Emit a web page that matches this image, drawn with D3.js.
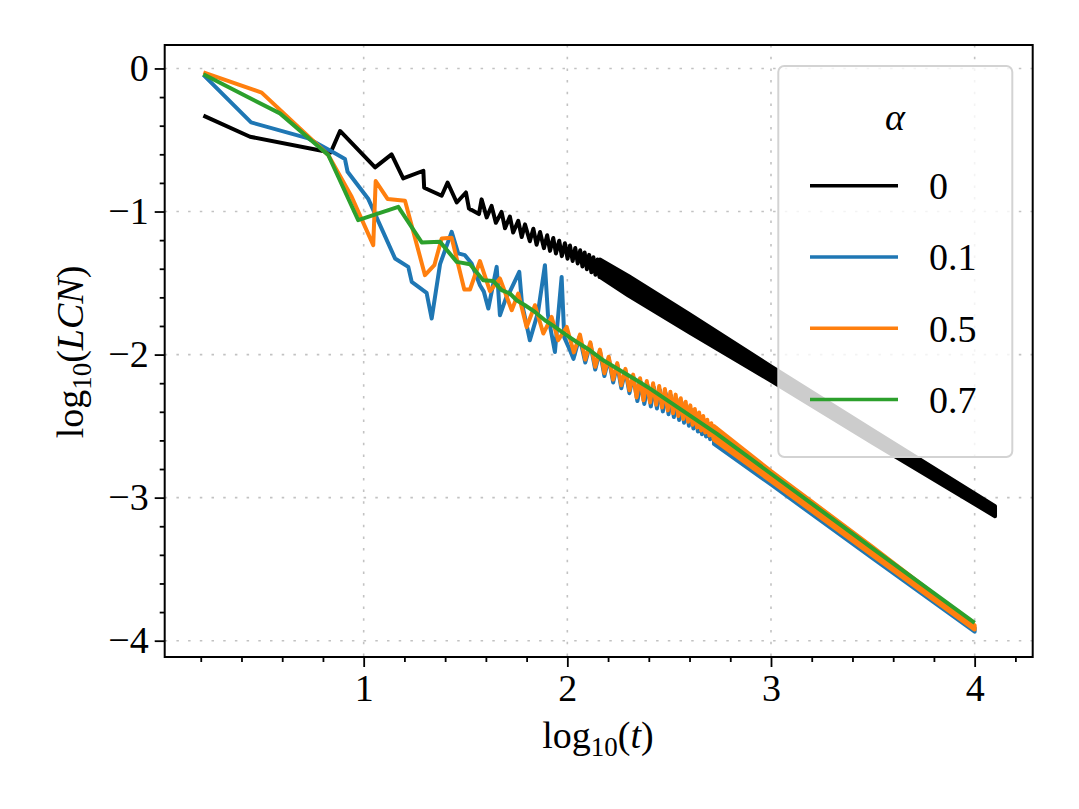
<!DOCTYPE html>
<html>
<head>
<meta charset="utf-8">
<script src="https://cdn.jsdelivr.net/npm/d3@7"></script>
<style>
  body { margin: 0; background: #fff; }
  svg text { font-family: "Liberation Serif", "Times New Roman", serif; fill: #000; }
</style>
</head>
<body>
<div id="chart"></div>
<script>
// log10(t) vs log10(LCN)
var xMajorTicks = [1, 2, 3, 4];
var yMajorTicks = [0, -1, -2, -3, -4];
var seriesLabels = ["0", "0.1", "0.5", "0.7"];

// alpha = 0 : vertices, then the dense tail as an envelope [logt, low, high]
var alpha0 = [
  [0.213, -0.330], [0.442, -0.477], [0.838, -0.587], [0.884, -0.437],
  [1.056, -0.691], [1.137, -0.601], [1.194, -0.768], [1.293, -0.715],
  [1.297, -0.834], [1.383, -0.890], [1.412, -0.797], [1.457, -0.937],
  [1.502, -0.867], [1.517, -0.979], [1.566, -1.018], [1.579, -0.915],
  [1.604, -1.041], [1.628, -0.961], [1.649, -1.079], [1.677, -1.003],
  [1.694, -1.117], [1.718, -1.035], [1.734, -1.147], [1.759, -1.065],
  [1.776, -1.178], [1.792, -1.090], [1.816, -1.208], [1.833, -1.120],
  [1.849, -1.232], [1.866, -1.143], [1.885, -1.256], [1.901, -1.166],
  [1.915, -1.275], [1.931, -1.185], [1.944, -1.293], [1.960, -1.204],
  [1.973, -1.312], [1.988, -1.222], [2.001, -1.330], [2.013, -1.238],
  [2.026, -1.346], [2.039, -1.255], [2.051, -1.363], [2.063, -1.271],
  [2.074, -1.384], [2.085, -1.286], [2.096, -1.404], [2.107, -1.303],
  [2.118, -1.424], [2.128, -1.320], [2.138, -1.442], [2.148, -1.336],
  [2.158, -1.458], [2.168, -1.352]
];
var alpha0Tail = [
  [2.16, -1.456, -1.336], [2.3, -1.587, -1.451], [2.6, -1.846, -1.718],
  [3.0, -2.183, -2.083], [3.5, -2.618, -2.528], [4.1, -3.130, -3.060]
];

// alpha = 0.1
var alpha01 = [
  [0.213, -0.045], [0.447, -0.377], [0.728, -0.489], [0.859, -0.593],
  [0.908, -0.633], [0.921, -0.722], [1.023, -0.913], [1.154, -1.328],
  [1.219, -1.387], [1.236, -1.492], [1.309, -1.569], [1.334, -1.748],
  [1.375, -1.368], [1.432, -1.142], [1.464, -1.293], [1.497, -1.305],
  [1.530, -1.363], [1.571, -1.515], [1.590, -1.560], [1.612, -1.678],
  [1.653, -1.387], [1.669, -1.725], [1.700, -1.600], [1.718, -1.560],
  [1.764, -1.422], [1.777, -1.640], [1.816, -1.900], [1.856, -1.705],
  [1.890, -1.375], [1.905, -1.725], [1.939, -1.982], [1.972, -1.457],
  [1.985, -1.880], [2.010, -1.960], [2.030, -2.030], [2.060, -1.875],
  [2.088, -2.055], [2.113, -1.925], [2.137, -2.105], [2.160, -1.975],
  [2.182, -2.150], [2.203, -2.025], [2.225, -2.195], [2.245, -2.070],
  [2.265, -2.235], [2.285, -2.110], [2.305, -2.270], [2.323, -2.150],
  [2.344, -2.325], [2.361, -2.195], [2.378, -2.345], [2.394, -2.215],
  [2.410, -2.362], [2.425, -2.230], [2.440, -2.377], [2.455, -2.250],
  [2.469, -2.397], [2.483, -2.270], [2.497, -2.417], [2.510, -2.290],
  [2.523, -2.437], [2.536, -2.310], [2.549, -2.457], [2.561, -2.335],
  [2.573, -2.477], [2.585, -2.360], [2.597, -2.497], [2.608, -2.385],
  [2.619, -2.517], [2.630, -2.410], [2.641, -2.537], [2.651, -2.435],
  [2.661, -2.557], [2.671, -2.460], [2.681, -2.572], [2.691, -2.485],
  [2.701, -2.592], [2.711, -2.510], [2.721, -2.612], [2.731, -2.530]
];
var alpha01Tail = [
  [2.72, -2.625, -2.540], [3.0, -2.908, -2.845], [3.5, -3.425, -3.370],
  [4.0, -3.937, -3.910]
];

// alpha = 0.5
var alpha05 = [
  [0.213, -0.027], [0.499, -0.169], [0.826, -0.605], [0.941, -0.897],
  [1.047, -1.235], [1.059, -0.787], [1.118, -0.913], [1.203, -0.925],
  [1.301, -1.445], [1.347, -1.375], [1.383, -1.188], [1.432, -1.184],
  [1.494, -1.545], [1.522, -1.545], [1.571, -1.346], [1.620, -1.557],
  [1.669, -1.468], [1.727, -1.690], [1.759, -1.573], [1.800, -1.807],
  [1.841, -1.655], [1.882, -1.853], [1.923, -1.737], [1.955, -1.900],
  [1.997, -1.807], [2.032, -1.985], [2.062, -1.860], [2.088, -2.035],
  [2.113, -1.915], [2.137, -2.085], [2.160, -1.965], [2.182, -2.130],
  [2.203, -2.015], [2.225, -2.175], [2.245, -2.060], [2.265, -2.215],
  [2.285, -2.100], [2.305, -2.250], [2.323, -2.140], [2.340, -2.300],
  [2.357, -2.165], [2.374, -2.320], [2.390, -2.185], [2.406, -2.335],
  [2.421, -2.200], [2.436, -2.350], [2.451, -2.220], [2.465, -2.370],
  [2.479, -2.240], [2.493, -2.390], [2.506, -2.260], [2.519, -2.410],
  [2.532, -2.280], [2.545, -2.430], [2.557, -2.305], [2.569, -2.450],
  [2.581, -2.330], [2.593, -2.470], [2.604, -2.355], [2.615, -2.490],
  [2.626, -2.380], [2.637, -2.510], [2.647, -2.405], [2.657, -2.530],
  [2.667, -2.430], [2.677, -2.545], [2.687, -2.455], [2.697, -2.565],
  [2.707, -2.480], [2.717, -2.585], [2.727, -2.500]
];
var alpha05Tail = [
  [2.72, -2.597, -2.500], [3.0, -2.885, -2.815], [3.5, -3.405, -3.345],
  [4.0, -3.922, -3.892]
];

// alpha = 0.7
var alpha07 = [
  [0.213, -0.041], [0.589, -0.314], [0.826, -0.605], [0.973, -1.060],
  [1.170, -0.967], [1.285, -1.216], [1.375, -1.212], [1.457, -1.352],
  [1.522, -1.368], [1.587, -1.480], [1.636, -1.485], [1.677, -1.550],
  [1.718, -1.573], [1.751, -1.620], [1.792, -1.655], [1.841, -1.702],
  [1.890, -1.760], [1.939, -1.807], [1.997, -1.865], [2.046, -1.912],
  [2.111, -1.970], [2.176, -2.040], [2.258, -2.110], [2.340, -2.180],
  [2.406, -2.238], [2.733, -2.553], [3.0, -2.833], [3.5, -3.356],
  [4.0, -3.876]
];

var colors = ["#000000", "#1f77b4", "#ff7f0e", "#2ca02c"];

var margin = {top: 45, right: 46.3, bottom: 152, left: 164.7},
    width = 1079 - margin.left - margin.right,
    height = 809 - margin.top - margin.bottom;

var svg = d3.select("#chart")
    .append("svg")
    .attr("width", 1079)
    .attr("height", 809);

var g = svg.append("g")
    .attr("transform", "translate(" + margin.left + "," + margin.top + ")");

var x = d3.scaleLinear().domain([0.023, 4.285]).range([0, width]);
var y = d3.scaleLinear().domain([-4.114, 0.164]).range([height, 0]);

var xMinorTicks = d3.range(1, 22).map(function(i) { return i / 5; })
    .filter(function(v) { return Math.abs(v - Math.round(v)) > 1e-6; });
var yMinorTicks = d3.range(-20, 1).map(function(i) { return i / 5; })
    .filter(function(v) { return Math.abs(v - Math.round(v)) > 1e-6; });

// grid
g.selectAll(".vgrid").data(xMajorTicks).enter()
    .append("line")
    .attr("x1", function(d) { return x(d); })
    .attr("x2", function(d) { return x(d); })
    .attr("y1", 0).attr("y2", height)
    .attr("stroke", "#c2c2c2")
    .attr("stroke-width", 1.6)
    .attr("stroke-dasharray", "2.5,9.2");
g.selectAll(".hgrid").data(yMajorTicks).enter()
    .append("line")
    .attr("y1", function(d) { return y(d); })
    .attr("y2", function(d) { return y(d); })
    .attr("x1", 0).attr("x2", width)
    .attr("stroke", "#c2c2c2")
    .attr("stroke-width", 1.6)
    .attr("stroke-dasharray", "2.5,9.2");

g.append("clipPath").attr("id", "plotclip")
    .append("rect").attr("width", width).attr("height", height);
var plot = g.append("g").attr("clip-path", "url(#plotclip)");

var line = d3.line()
    .x(function(d) { return x(d[0]); })
    .y(function(d) { return y(d[1]); });
var band = d3.area()
    .x(function(d) { return x(d[0]); })
    .y0(function(d) { return y(d[1]); })
    .y1(function(d) { return y(d[2]); });

function drawSeries(points, tail, color) {
    if (tail) {
        plot.append("path")
            .datum(tail)
            .attr("d", band)
            .attr("fill", color)
            .attr("stroke", color)
            .attr("stroke-width", 4)
            .attr("stroke-linejoin", "round");
    }
    plot.append("path")
        .datum(points)
        .attr("d", line)
        .attr("fill", "none")
        .attr("stroke", color)
        .attr("stroke-width", 4)
        .attr("stroke-linejoin", "round");
}

drawSeries(alpha0, alpha0Tail, colors[0]);
drawSeries(alpha01, alpha01Tail, colors[1]);
drawSeries(alpha05, alpha05Tail, colors[2]);
drawSeries(alpha07, null, colors[3]);

// axes
var xAxis = d3.axisBottom(x).tickValues(xMajorTicks).tickSize(10).tickPadding(7)
    .tickFormat(function(d) { return String(d); });
var xAxisMinor = d3.axisBottom(x).tickValues(xMinorTicks).tickSize(5).tickFormat("");
var yAxis = d3.axisLeft(y).tickValues(yMajorTicks).tickSize(10).tickPadding(6)
    .tickFormat(function(d) { return d === 0 ? "0" : "\u2212" + Math.abs(d); });
var yAxisMinor = d3.axisLeft(y).tickValues(yMinorTicks).tickSize(5).tickFormat("");

g.append("g").attr("transform", "translate(0," + height + ")").call(xAxisMinor);
g.append("g").attr("transform", "translate(0," + height + ")").call(xAxis);
g.append("g").call(yAxisMinor);
g.append("g").call(yAxis);

g.selectAll(".domain").remove();
g.selectAll(".tick line").attr("stroke", "#000").attr("stroke-width", 1.8);
g.selectAll(".tick text")
    .attr("font-family", "Liberation Serif, serif")
    .attr("font-size", 38)
    .attr("fill", "#000");

g.append("rect")
    .attr("width", width)
    .attr("height", height)
    .attr("fill", "none")
    .attr("stroke", "#000")
    .attr("stroke-width", 2);

// axis labels
var xl = svg.append("text")
    .attr("x", 598)
    .attr("y", 748)
    .attr("text-anchor", "middle")
    .attr("font-size", 38);
xl.append("tspan").text("log");
xl.append("tspan").attr("font-size", 27).attr("dy", 8).text("10");
xl.append("tspan").attr("dy", -8).text("(");
xl.append("tspan").attr("font-style", "italic").text("t");
xl.append("tspan").text(")");

var yl = svg.append("text")
    .attr("transform", "translate(83,352) rotate(-90)")
    .attr("text-anchor", "middle")
    .attr("font-size", 38);
yl.append("tspan").text("log");
yl.append("tspan").attr("font-size", 27).attr("dy", 8).text("10");
yl.append("tspan").attr("dy", -8).text("(");
yl.append("tspan").attr("font-style", "italic").text("LCN");
yl.append("tspan").text(")");

// legend
var legend = svg.append("g");
legend.append("rect")
    .attr("x", 778.3)
    .attr("y", 66)
    .attr("width", 234)
    .attr("height", 391)
    .attr("rx", 6)
    .attr("fill", "#fff")
    .attr("fill-opacity", 0.8)
    .attr("stroke", "#d3d3d3")
    .attr("stroke-width", 2);
legend.append("text")
    .attr("x", 895)
    .attr("y", 130)
    .attr("text-anchor", "middle")
    .attr("font-size", 38)
    .attr("font-style", "italic")
    .text("\u03b1");

var entries = legend.selectAll(".entry").data(seriesLabels).enter()
    .append("g")
    .attr("transform", function(d, i) { return "translate(0," + (185.7 + i * 71.3) + ")"; });
entries.append("line")
    .attr("x1", 810).attr("x2", 898)
    .attr("stroke", function(d, i) { return colors[i]; })
    .attr("stroke-width", 3.5);
entries.append("text")
    .attr("x", 929)
    .attr("dy", "0.35em")
    .attr("font-size", 38)
    .text(function(d) { return d; });
</script>
</body>
</html>
